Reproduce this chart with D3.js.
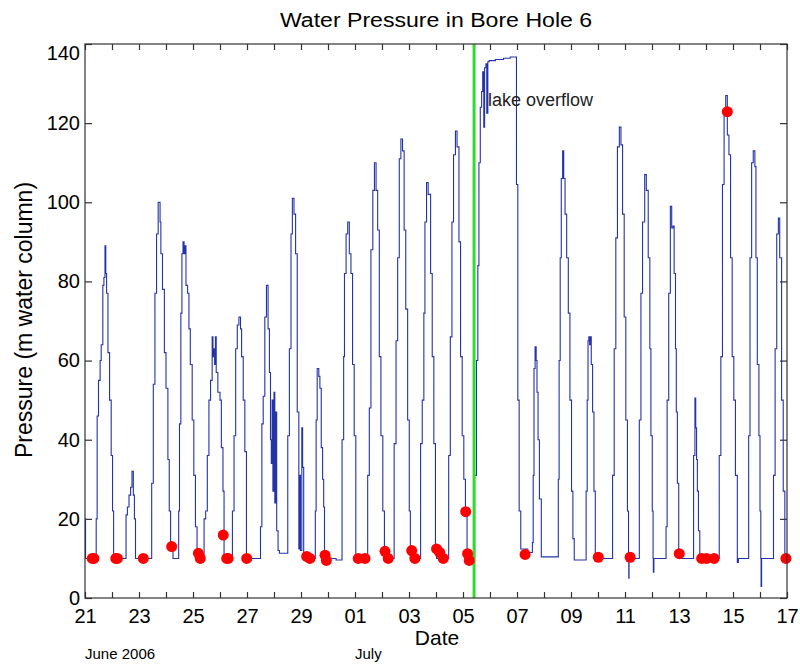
<!DOCTYPE html>
<html lang="en">
<head>
    <meta charset="UTF-8">
    <title>Water Pressure in Bore Hole 6</title>
    <script src="https://cdnjs.cloudflare.com/ajax/libs/d3/7.8.5/d3.min.js"></script>
    <style>
body {
  margin: 0;
  background: white;
  font-family: "Liberation Sans", Arial, Helvetica, sans-serif;
}
.axis text {
  font-family: "Liberation Sans", Arial, Helvetica, sans-serif;
  font-size: 20px;
  fill: #000;
}
.axis line {
  stroke: #333;
  stroke-width: 1.2;
}
    </style>
</head>
<body>
<script>
// days counted from 21 June 2006 00:00, pressure in m water column
var pressure = [
  [0, 20], [0.02, 10],
  [0.415, 20], [0.45, 46], [0.5, 55], [0.56, 60], [0.6, 64], [0.66, 79], [0.7, 81], [0.74, 89], [0.77, 82], [0.8, 77], [0.85, 62], [0.91, 50], [0.97, 36], [1.02, 22], [1.06, 10],
  [1.52, 21], [1.57, 23], [1.63, 26], [1.69, 28], [1.74, 32], [1.79, 26], [1.83, 20], [1.87, 10],
  [2.47, 29], [2.53, 54], [2.59, 77], [2.65, 92], [2.71, 100], [2.78, 95], [2.81, 87], [2.87, 78], [2.94, 62], [3.0, 53], [3.07, 35], [3.12, 22], [3.17, 13], [3.26, 10],
  [3.47, 22], [3.5, 44], [3.55, 72], [3.59, 87], [3.63, 90], [3.67, 87], [3.7, 89], [3.74, 79], [3.8, 77], [3.85, 68], [3.9, 59], [3.97, 45], [4.03, 31], [4.09, 18], [4.15, 10],
  [4.41, 20], [4.47, 22], [4.53, 36], [4.59, 50], [4.65, 55], [4.71, 66], [4.74, 61], [4.77, 63], [4.8, 59], [4.83, 66], [4.86, 57], [4.92, 52], [5.0, 50], [5.05, 38], [5.11, 27], [5.15, 10],
  [5.46, 22], [5.52, 41], [5.58, 63], [5.64, 69], [5.7, 71], [5.76, 68], [5.8, 61], [5.86, 50], [5.92, 37], [5.98, 10],
  [6.5, 18], [6.55, 44], [6.6, 51], [6.66, 71], [6.72, 79], [6.78, 68], [6.83, 57], [6.87, 40], [6.9, 34], [6.93, 50], [6.96, 27], [7.0, 52], [7.03, 24], [7.07, 47], [7.1, 17], [7.15, 12], [7.2, 11.3],
  [7.51, 41], [7.57, 63], [7.63, 92], [7.68, 101], [7.74, 97], [7.8, 87], [7.86, 47], [7.92, 12.4], [7.96, 31], [7.98, 12], [8.03, 43], [8.06, 33], [8.1, 10],
  [8.53, 22], [8.56, 45], [8.6, 58], [8.66, 56], [8.7, 53], [8.75, 38], [8.8, 30], [8.84, 23], [8.87, 10], [9.3, 9.6],
  [9.52, 40], [9.58, 61], [9.61, 82], [9.67, 92], [9.73, 95], [9.79, 87], [9.85, 82], [9.91, 59], [9.97, 41], [10.03, 10],
  [10.47, 31], [10.53, 48], [10.59, 88], [10.66, 103], [10.72, 110], [10.78, 103], [10.84, 93], [10.9, 61], [10.96, 41], [11.03, 22], [11.09, 10],
  [11.45, 39], [11.52, 65], [11.58, 86], [11.64, 111], [11.7, 116], [11.76, 113], [11.82, 93], [11.88, 73], [11.95, 45], [12.01, 22], [12.05, 10],
  [12.43, 39], [12.49, 50], [12.55, 72], [12.59, 95], [12.65, 105], [12.71, 102], [12.8, 82], [12.86, 61], [12.92, 39], [12.98, 13], [13.02, 10],
  [13.47, 36], [13.53, 66], [13.59, 95], [13.65, 112], [13.72, 118], [13.78, 114], [13.85, 90], [13.91, 61], [13.97, 41], [14.03, 30], [14.09, 22], [14.15, 10],
  [14.43, 31], [14.5, 60], [14.55, 84], [14.59, 110], [14.64, 124], [14.69, 128], [14.73, 133], [14.77, 119], [14.8, 134], [14.85, 135], [14.88, 122.5], [14.92, 135.5], [14.97, 135.8], [15.2, 136.1], [15.5, 136.4], [15.75, 136.7],
  [15.98, 104.5], [16.03, 50], [16.08, 22], [16.14, 12.4], [16.4, 11.5],
  [16.57, 14], [16.6, 31], [16.63, 58], [16.67, 63.5], [16.71, 60], [16.74, 52], [16.78, 40], [16.83, 25], [16.9, 10.4],
  [17.53, 30], [17.56, 60], [17.6, 86], [17.64, 106], [17.69, 113], [17.73, 106], [17.78, 97], [17.84, 86], [17.9, 72], [17.96, 50], [18.02, 27], [18.07, 15], [18.12, 9.6],
  [18.56, 27], [18.6, 50], [18.63, 65], [18.66, 66], [18.69, 64], [18.72, 66], [18.75, 59], [18.8, 47], [18.85, 27], [18.9, 10],
  [19.54, 31], [19.6, 63], [19.66, 91], [19.72, 114], [19.79, 119], [19.85, 114.5], [19.91, 97], [19.97, 71], [20.03, 45], [20.09, 22], [20.13, 10], [20.14, 5], [20.15, 10],
  [20.53, 45], [20.59, 77], [20.65, 95], [20.73, 107], [20.79, 103], [20.86, 86], [20.92, 63], [20.96, 41], [21.01, 22], [21.04, 10], [21.05, 6.5], [21.07, 10],
  [21.52, 18], [21.56, 50], [21.62, 77], [21.68, 99], [21.73, 93.5], [21.78, 94], [21.82, 82], [21.87, 63], [21.9, 47], [21.94, 29], [21.99, 11.5], [22.05, 10],
  [22.54, 36], [22.59, 50.5], [22.62, 43], [22.65, 35], [22.68, 27], [22.72, 17], [22.77, 10],
  [23.49, 36], [23.55, 61], [23.61, 104.5], [23.67, 123], [23.73, 127], [23.79, 117], [23.85, 112], [23.91, 86], [23.97, 61], [24.03, 50], [24.09, 31], [24.16, 9], [24.2, 10],
  [24.58, 41], [24.63, 86], [24.69, 110], [24.75, 113], [24.81, 109], [24.85, 86], [24.9, 59], [24.96, 41], [25.0, 22], [25.03, 10], [25.04, 2.9], [25.06, 10],
  [25.5, 31], [25.56, 63], [25.62, 92], [25.68, 96], [25.73, 86], [25.8, 50], [25.86, 27], [25.92, 10], [26, 10]
];

// red markers
var events = [
  [0.27, 10], [0.33, 10], [1.14, 10], [1.2, 10], [2.16, 10], [3.21, 13],
  [4.2, 11.3], [4.27, 10], [5.12, 15.9], [5.25, 10], [5.3, 10], [5.99, 10],
  [8.21, 10.5], [8.33, 10], [8.89, 10.8], [8.94, 9.5], [10.12, 10], [10.37, 10],
  [11.11, 11.8], [11.23, 10], [12.1, 12], [12.22, 10], [13.02, 12.4], [13.14, 11.5], [13.27, 10],
  [14.1, 21.8], [14.17, 11.2], [14.23, 9.5], [16.3, 11], [19.01, 10.3], [20.19, 10.3],
  [22.01, 11.2], [22.84, 10], [23.02, 10], [23.3, 10], [23.79, 122.9], [25.96, 10]
];

var overflowDay = 14.41;
var yTicks = [0, 20, 40, 60, 80, 100, 120, 140];
var startDate = new Date(2006, 5, 21);
var endDate = new Date(2006, 6, 17);
var monthLabels = [["June 2006", 0], ["July", 10]];

function toDate(d) {
  return new Date(startDate.getTime() + d * 864e5);
}

var margin = {top: 44, right: 13, bottom: 66, left: 85},
    width = 800 - margin.left - margin.right,
    height = 664 - margin.top - margin.bottom;

var x = d3.scaleTime().domain([startDate, endDate]).range([0, width]);
var y = d3.scaleLinear().domain([0, 140]).range([height, 0]);

var days = d3.timeDay.range(startDate, d3.timeDay.offset(endDate, 1));
var dayFormat = d3.timeFormat("%d");

var svg = d3.select("body").append("svg")
    .attr("width", 800)
    .attr("height", 664)
    .append("g")
    .attr("transform", "translate(" + margin.left + "," + margin.top + ")");

svg.append("g")
    .attr("class", "axis")
    .attr("transform", "translate(0," + height + ")")
    .call(d3.axisBottom(x).tickValues(days).tickSize(-6).tickPadding(11)
      .tickFormat(function(d, i) { return i % 2 === 0 ? dayFormat(d) : ""; }));

svg.append("g")
    .attr("class", "axis")
    .call(d3.axisTop(x).tickValues(days).tickSize(-6).tickFormat(""));

svg.append("g")
    .attr("class", "axis y-left")
    .call(d3.axisLeft(y).tickValues(yTicks).tickSize(-7).tickPadding(5));

svg.append("g")
    .attr("class", "axis")
    .attr("transform", "translate(" + width + ",0)")
    .call(d3.axisRight(y).tickValues(yTicks).tickSize(-7).tickFormat(""));

svg.selectAll(".axis .domain").remove();
svg.selectAll(".axis text").style("font-size", "20px");
// top label sits a little below the frame in the original
svg.selectAll(".y-left .tick text").filter(function(d) { return d === 140; }).attr("dy", "0.75em");

var line = d3.line()
    .curve(d3.curveStepAfter)
    .x(function(d) { return x(toDate(d[0])); })
    .y(function(d) { return y(d[1]); });

svg.append("path")
    .datum(pressure)
    .attr("fill", "none")
    .attr("stroke", "#2433a6")
    .attr("stroke-width", 1.1)
    .attr("d", line);

svg.append("line")
    .attr("x1", x(toDate(overflowDay)))
    .attr("x2", x(toDate(overflowDay)))
    .attr("y1", 0)
    .attr("y2", height)
    .attr("stroke", "#2fdc2f")
    .attr("stroke-width", 3);

svg.selectAll(".dot")
    .data(events)
    .enter().append("circle")
    .attr("class", "dot")
    .attr("r", 5.5)
    .attr("cx", function(d) { return x(toDate(d[0])); })
    .attr("cy", function(d) { return y(d[1]); })
    .attr("fill", "#ff0000");

svg.append("rect")
    .attr("width", width)
    .attr("height", height)
    .attr("fill", "none")
    .attr("stroke", "#333")
    .attr("stroke-width", 1.2);

svg.append("text")
    .attr("x", x(toDate(overflowDay)) + 14)
    .attr("y", 62)
    .style("font-size", "18px")
    .style("fill", "#222")
    .text("lake overflow");

svg.append("text")
    .attr("transform", "translate(" + (width / 2) + "," + (27 - margin.top) + ") scale(1.1,1)")
    .attr("text-anchor", "middle")
    .style("font-size", "21px")
    .text("Water Pressure in Bore Hole 6");

svg.append("text")
    .attr("x", width / 2 + 1)
    .attr("y", height + 47)
    .attr("text-anchor", "middle")
    .style("font-size", "21px")
    .text("Date");

svg.append("text")
    .attr("transform", "translate(" + (32 - margin.left) + "," + (height / 2 - 1) + ") rotate(-90)")
    .attr("text-anchor", "middle")
    .style("font-size", "23px")
    .text("Pressure (m water column)");

svg.selectAll(".month")
    .data(monthLabels)
    .enter().append("text")
    .attr("class", "month")
    .attr("x", function(d) { return x(toDate(d[1])); })
    .attr("y", height + 61)
    .style("font-size", "15px")
    .text(function(d) { return d[0]; });
</script>
</body>
</html>
